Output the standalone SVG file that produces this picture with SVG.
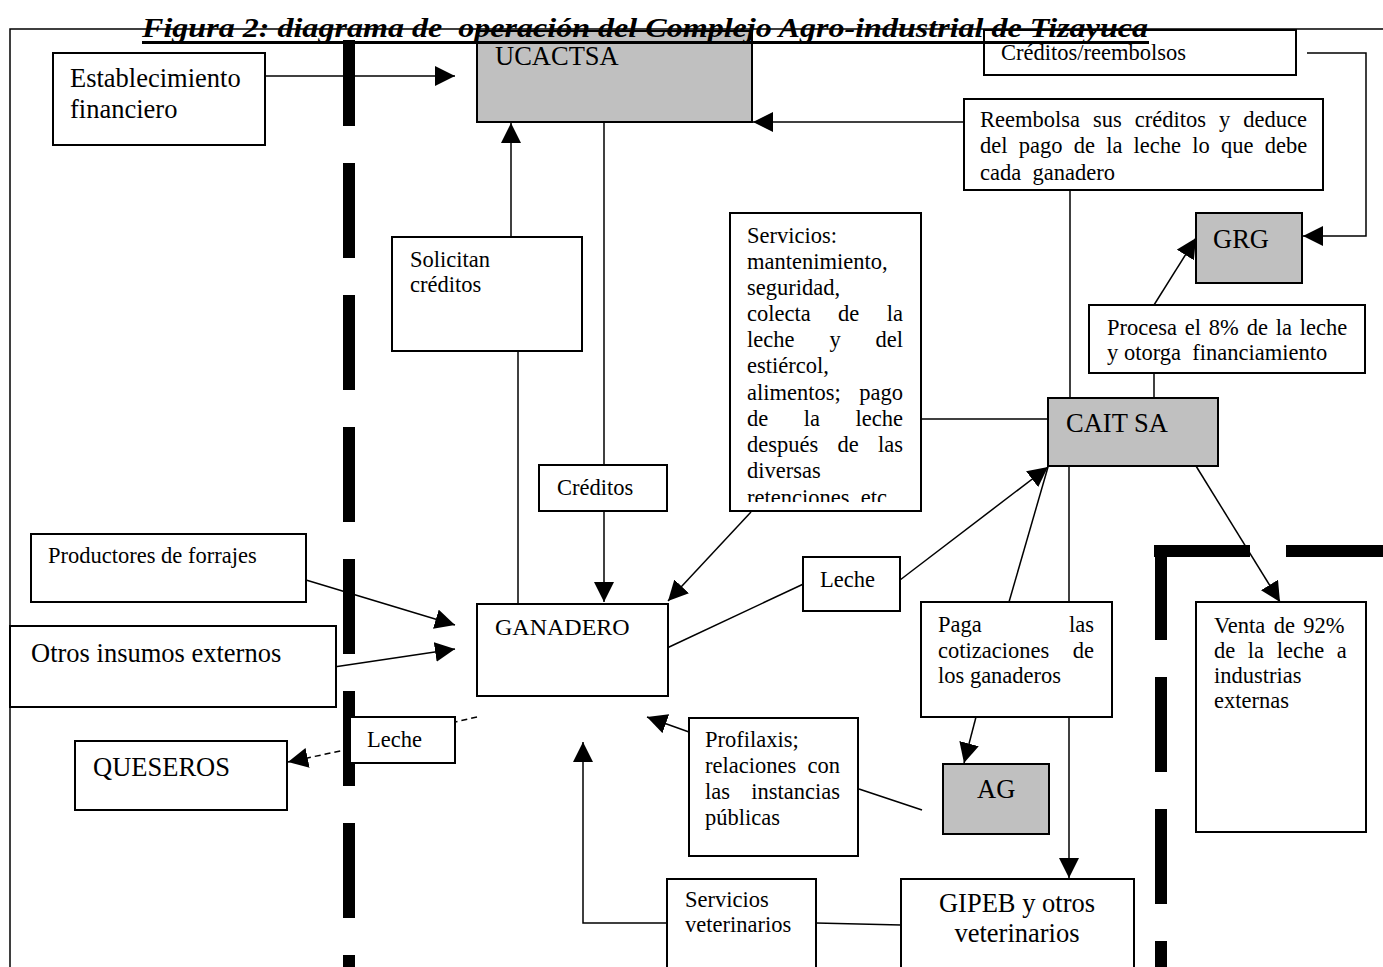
<svg xmlns="http://www.w3.org/2000/svg" width="1383" height="967" viewBox="0 0 1383 967">
<style>
.box{fill:#fff;stroke:#000;stroke-width:2}
.gray{fill:#c0c0c0;stroke:#000;stroke-width:2}
.ln{fill:none;stroke:#000;stroke-width:1.5}
.dash{stroke-dasharray:6 4}
.arr{marker-end:url(#ah)}
.bar{fill:#000}
text{font-family:"Liberation Serif","Times New Roman",serif;fill:#000}
.s{font-size:22.5px}
.b{font-size:26.5px}
.g{font-size:24px}
.t{font-size:27px;font-weight:bold;font-style:italic}
</style>
<defs>
<marker id="ah" markerUnits="userSpaceOnUse" viewBox="0 0 20 20" markerWidth="20" markerHeight="20" refX="20" refY="10" orient="auto">
<path d="M0,0 L20,10 L0,20 z" fill="#000"/>
</marker>
<clipPath id="clipServ"><rect x="731" y="214" width="189" height="288"/></clipPath>
</defs>
<rect width="1383" height="967" fill="#fff"/>
<g id="frame">
<path class="ln" d="M10,967 V29 H1383"/>
</g>
<g id="boundaries">
<rect class="bar" x="343" y="40" width="12" height="86"/>
<rect class="bar" x="343" y="163" width="12" height="95"/>
<rect class="bar" x="343" y="295" width="12" height="95"/>
<rect class="bar" x="343" y="427" width="12" height="95"/>
<rect class="bar" x="343" y="559" width="12" height="95"/>
<rect class="bar" x="343" y="691" width="12" height="95"/>
<rect class="bar" x="343" y="823" width="12" height="95"/>
<rect class="bar" x="343" y="955" width="12" height="12"/>
<rect class="bar" x="1154" y="545" width="96" height="12"/>
<rect class="bar" x="1286" y="545" width="97" height="12"/>
<rect class="bar" x="1155" y="545" width="12" height="95"/>
<rect class="bar" x="1155" y="677" width="12" height="95"/>
<rect class="bar" x="1155" y="809" width="12" height="95"/>
<rect class="bar" x="1155" y="941" width="12" height="26"/>
</g>
<g id="connectors">
<path class="ln arr" d="M265,76 H455"/>
<path class="ln arr" d="M511,237 V123"/>
<path class="ln arr" d="M964,122 H753"/>
<path class="ln" d="M604,122 V465"/>
<path class="ln arr" d="M604,511 V602"/>
<path class="ln" d="M518,351 V603"/>
<path class="ln arr" d="M751,512 L668,601"/>
<path class="ln arr" d="M1307,53 H1366 V236 H1303"/>
<path class="ln arr" d="M1154,305 L1196,238"/>
<path class="ln" d="M1154,373 V398"/>
<path class="ln" d="M1070,190 V398"/>
<path class="ln" d="M921,419 H1048"/>
<path class="ln arr" d="M900,580 L1048,467"/>
<path class="ln" d="M667,648 L812,580"/>
<path class="ln" d="M1009,602 L1048,467"/>
<path class="ln" d="M1069,466 V602"/>
<path class="ln arr" d="M1069,717 V878"/>
<path class="ln arr" d="M1196,466 L1280,602"/>
<path class="ln arr" d="M976,717 L964,763"/>
<path class="ln" d="M922,810 L859,789"/>
<path class="ln arr" d="M689,732 L647,717"/>
<path class="ln" d="M816,923 L901,925"/>
<path class="ln arr" d="M668,923 H583 V742"/>
<path class="ln arr" d="M306,580 L455,625"/>
<path class="ln arr" d="M307,671 L455,649"/>
<path class="ln dash" d="M477,717 L455,722"/>
<path class="ln dash arr" d="M350,749 L288,762"/>
</g>
<g id="ucactsa">
<rect class="gray" x="477" y="31" width="275" height="91"/>
<text class="b" x="495" y="65">UCACTSA</text>
</g>
<g id="establecimiento">
<rect class="box" x="53" y="53" width="212" height="92"/>
<text class="b" x="70" y="87">Establecimiento</text>
<text class="b" x="70" y="118">financiero</text>
</g>
<g id="creditos-reembolsos">
<rect class="box" x="984" y="30" width="312" height="45"/>
<text class="s" x="1001" y="60">Créditos/reembolsos</text>
</g>
<g id="reembolsa">
<rect class="box" x="964" y="99" width="359" height="91"/>
<text class="s" x="980" y="127" style="word-spacing:7.4px">Reembolsa sus créditos y deduce</text>
<text class="s" x="980" y="153" style="word-spacing:5.6px">del pago de la leche lo que debe</text>
<text class="s" x="980" y="180" style="word-spacing:5.6px">cada ganadero</text>
</g>
<g id="grg">
<rect class="gray" x="1196" y="213" width="106" height="70"/>
<text class="b" x="1213" y="248">GRG</text>
</g>
<g id="solicitan">
<rect class="box" x="392" y="237" width="190" height="114"/>
<text class="s" x="410" y="267">Solicitan</text>
<text class="s" x="410" y="292">créditos</text>
</g>
<g id="servicios">
<rect class="box" x="730" y="213" width="191" height="298"/>
<g clip-path="url(#clipServ)">
<text class="s" x="747" y="243">Servicios:</text>
<text class="s" x="747" y="269">mantenimiento,</text>
<text class="s" x="747" y="295">seguridad,</text>
<text class="s" x="747" y="321" style="word-spacing:21.8px">colecta de la</text>
<text class="s" x="747" y="347" style="word-spacing:29.3px">leche y del</text>
<text class="s" x="747" y="373">estiércol,</text>
<text class="s" x="747" y="400" style="word-spacing:12.9px">alimentos; pago</text>
<text class="s" x="747" y="426" style="word-spacing:29.9px">de la leche</text>
<text class="s" x="747" y="452" style="word-spacing:13.6px">después de las</text>
<text class="s" x="747" y="478">diversas</text>
<text class="s" x="747" y="505">retenciones. etc.</text>
</g>
</g>
<g id="procesa">
<rect class="box" x="1089" y="305" width="276" height="68"/>
<text class="s" x="1107" y="335" style="word-spacing:2.2px">Procesa el 8% de la leche</text>
<text class="s" x="1107" y="360" xml:space="preserve">y otorga  financiamiento</text>
</g>
<g id="cait">
<rect class="gray" x="1048" y="398" width="170" height="68"/>
<text class="b" x="1066" y="432">CAIT SA</text>
</g>
<g id="creditos">
<rect class="box" x="539" y="465" width="128" height="46"/>
<text class="s" x="557" y="495">Créditos</text>
</g>
<g id="productores">
<rect class="box" x="31" y="534" width="275" height="68"/>
<text class="s" x="48" y="563">Productores de forrajes</text>
</g>
<g id="leche-caits">
<rect class="box" x="803" y="557" width="97" height="54"/>
<text class="s" x="820" y="587">Leche</text>
</g>
<g id="ganadero">
<rect class="box" x="477" y="604" width="191" height="92"/>
<text class="g" x="495" y="635">GANADERO</text>
</g>
<g id="otros">
<rect class="box" x="10" y="626" width="326" height="81"/>
<text class="b" x="31" y="662">Otros insumos externos</text>
</g>
<g id="paga">
<rect class="box" x="921" y="602" width="191" height="115"/>
<text class="s" x="938" y="632" style="word-spacing:81.7px">Paga las</text>
<text class="s" x="938" y="658" style="word-spacing:17.9px">cotizaciones de</text>
<text class="s" x="938" y="683">los ganaderos</text>
</g>
<g id="venta">
<rect class="box" x="1196" y="602" width="170" height="230"/>
<text class="s" x="1214" y="633" style="word-spacing:2.8px">Venta de 92%</text>
<text class="s" x="1214" y="658" style="word-spacing:7px">de la leche a</text>
<text class="s" x="1214" y="683">industrias</text>
<text class="s" x="1214" y="708">externas</text>
</g>
<g id="leche-queseros">
<rect class="box" x="350" y="717" width="105" height="46"/>
<text class="s" x="367" y="747">Leche</text>
</g>
<g id="queseros">
<rect class="box" x="75" y="741" width="212" height="69"/>
<text class="b" x="93" y="776">QUESEROS</text>
</g>
<g id="profilaxis">
<rect class="box" x="689" y="718" width="169" height="138"/>
<text class="s" x="705" y="747">Profilaxis;</text>
<text class="s" x="705" y="773" style="word-spacing:5.7px">relaciones con</text>
<text class="s" x="705" y="799" style="word-spacing:15.7px">las instancias</text>
<text class="s" x="705" y="825">públicas</text>
</g>
<g id="ag">
<rect class="gray" x="943" y="764" width="106" height="70"/>
<text class="b" x="977" y="798">AG</text>
</g>
<g id="servicios-veterinarios">
<rect class="box" x="667" y="879" width="149" height="95"/>
<text class="s" x="685" y="907">Servicios</text>
<text class="s" x="685" y="932">veterinarios</text>
</g>
<g id="gipeb">
<rect class="box" x="901" y="879" width="233" height="95"/>
<text class="b" x="1017" y="912" text-anchor="middle">GIPEB y otros</text>
<text class="b" x="1017" y="942" text-anchor="middle">veterinarios</text>
</g>
<g id="titulo">
<text class="t" x="142" y="37" textLength="1006" lengthAdjust="spacingAndGlyphs" xml:space="preserve">Figura 2: diagrama de  operación del Complejo Agro-industrial de Tizayuca</text>
<rect x="142" y="41" width="1007" height="3" fill="#000"/>
</g>
</svg>
